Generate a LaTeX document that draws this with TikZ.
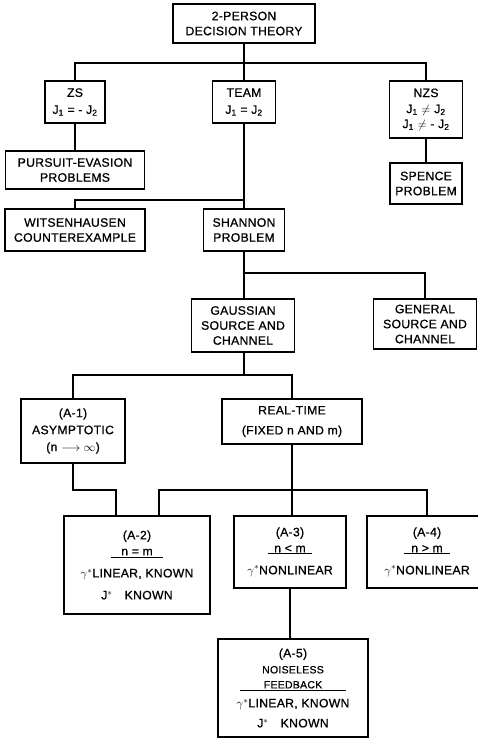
\documentclass[tikz,border=0pt]{standalone}
\usepackage{fontspec}
\setmainfont{Liberation Sans}[LetterSpace=2.5,FakeBold=0.8]
\usetikzlibrary{calc}
\tikzset{
  block/.style={
    draw, line width=1.1pt, align=center, inner sep=1pt,
    font=\fontsize{12.2}{15}\selectfont
  },
  link/.style={line width=1.1pt}
}
\newcommand{\ul}[2]{\underline{\makebox[#1]{#2}}}

\begin{document}
\begin{tikzpicture}[x=1pt,y=-1pt]
  \useasboundingbox (0,0) rectangle (477,739);
  % boxes
  \node[block,minimum width=142pt,minimum height=39pt] (root) at (244,23.5) {2-PERSON\\DECISION THEORY};
  \node[block,minimum width=60pt,minimum height=42pt] (zs) at (75,102) {ZS\\[2pt]J\textsubscript{1} = - J\textsubscript{2}};
  \node[block,minimum width=63pt,minimum height=42pt] (team) at (244,102) {TEAM\\[2pt]J\textsubscript{1} = J\textsubscript{2}};
  \node[block,minimum width=73pt,minimum height=57pt] (nzs) at (426,109.5) {NZS\\[1pt]J\textsubscript{1} $\neq$ J\textsubscript{2}\\[0pt]J\textsubscript{1} $\neq$ - J\textsubscript{2}};
  \node[block,minimum width=139pt,minimum height=38pt] (pursuit) at (75,170) {PURSUIT-EVASION\\PROBLEMS};
  \node[block,minimum width=72pt,minimum height=41pt] (spence) at (426,183.5) {SPENCE\\PROBLEM};
  \node[block,minimum width=140pt,minimum height=42pt] (witsen) at (75,230) {WITSENHAUSEN\\COUNTEREXAMPLE};
  \node[block,minimum width=81pt,minimum height=42pt] (shannon) at (244,230) {SHANNON\\PROBLEM};
  \node[block,minimum width=103pt,minimum height=53pt] (gauss) at (243,325.5) {GAUSSIAN\\SOURCE AND\\CHANNEL};
  \node[block,minimum width=103pt,minimum height=50pt] (general) at (425,324) {GENERAL\\SOURCE AND\\CHANNEL};
  \node[block,minimum width=104pt,minimum height=64pt] (a1) at (73,431) {(A-1)\\[2pt]ASYMPTOTIC\\[2pt](n $\longrightarrow\infty$)};
  \node[block,minimum width=140pt,minimum height=45pt] (realtime) at (292,421.5) {REAL-TIME\\[5pt](FIXED n AND m)};
  \node[block,minimum width=146pt,minimum height=98pt] (a2) at (137,565) {(A-2)\\[1pt]\ul{52pt}{n = m}\\[7pt]$\gamma^{*}$LINEAR, KNOWN\\[7pt]J$^{*}$\quad KNOWN};
  \node[block,minimum width=112pt,minimum height=72pt] (a3) at (290,552) {(A-3)\\[1pt]\ul{44pt}{n < m}\\[7pt]$\gamma^{*}$NONLINEAR};
  \node[block,minimum width=120pt,minimum height=72pt] (a4) at (427,552) {(A-4)\\[1pt]\ul{46pt}{n > m}\\[7pt]$\gamma^{*}$NONLINEAR};
  \node[block,minimum width=150pt,minimum height=98pt] (a5) at (293,688) {(A-5)\\[1pt]{\fontsize{10.5}{11}\selectfont NOISELESS}\\{\fontsize{10.5}{11}\selectfont\ul{106pt}{FEEDBACK}}\\[4pt]$\gamma^{*}$LINEAR, KNOWN\\[5pt]J$^{*}$\quad KNOWN};
  % junctions
  \coordinate (j1) at (244,63);
  \coordinate (j2) at (244,200);
  \coordinate (j3) at (244,273);
  \coordinate (j4) at (244,375);
  \coordinate (j5) at (73,490);
  \coordinate (j6) at (292,490);
  % connectors
  \draw[link] (root) -- (team);
  \draw[link] (zs.north) |- (j1) -| (nzs.north);
  \draw[link] (zs) -- (pursuit);
  \draw[link] (nzs) -- (spence);
  \draw[link] (team) -- (shannon);
  \draw[link] (witsen.north) |- (j2);
  \draw[link] (shannon.south) -- (shannon.south |- gauss.north);
  \draw[link] (j3) -| (general.north);
  \draw[link] (gauss.south -| j4) -- (j4);
  \draw[link] (a1.north) |- (j4) -| (realtime.north);
  \draw[link] (a1.south) -- (j5) -| ($(a2.north)+(-21,0)$);
  \draw[link] (realtime.south) -- (j6);
  \draw[link] ($(a2.north)+(22,0)$) |- (j6) -| (a4.north);
  \draw[link] (j6) -- (j6 |- a3.north);
  \draw[link] (a3.south) -- (a3.south |- a5.north);
\end{tikzpicture}
\end{document}
